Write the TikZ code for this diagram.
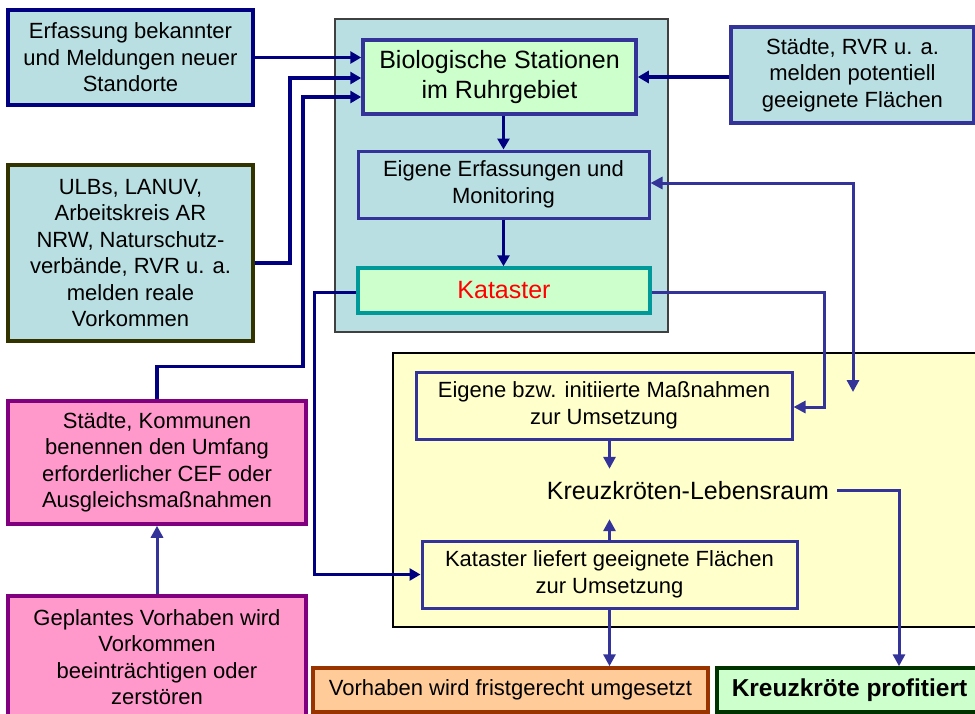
\documentclass[tikz,border=0pt]{standalone}
\usepackage{fontspec}
\setmainfont{Liberation Sans}
\usetikzlibrary{arrows.meta,calc}
\definecolor{lblue}{HTML}{B9DFE2}
\definecolor{lgreen}{HTML}{CCFFCC}
\definecolor{lyellow}{HTML}{FFFFCC}
\definecolor{lpink}{HTML}{FF99CC}
\definecolor{lpeach}{HTML}{FFCC99}
\definecolor{navyc}{HTML}{000080}
\definecolor{bluec}{HTML}{333399}
\definecolor{tealc}{HTML}{009999}
\definecolor{olivec}{HTML}{333300}
\definecolor{dgreen}{HTML}{003300}
\definecolor{brownc}{HTML}{993300}
\definecolor{purplec}{HTML}{800080}
\newcommand\myfs[2]{\fontsize{#1}{#2}\selectfont}
\begin{document}
\begin{tikzpicture}[x=1pt,y=-1pt,
  boxa/.style={draw, line width=3.5pt, inner sep=0pt, align=center, font=\myfs{22}{26.5}},
  boxb/.style={draw=bluec, line width=3pt, inner sep=0pt, align=center, font=\myfs{22}{26.5}},
  navyarr/.style={draw=navyc, line width=3.5pt, -{Triangle[length=11pt,width=12pt]}},
  bluearr/.style={draw=bluec, line width=3pt, -{Triangle[length=12pt,width=12pt]}},
  bluedbl/.style={draw=bluec, line width=3pt, {Triangle[length=12pt,width=12pt]}-{Triangle[length=12pt,width=12pt]}}
]
\useasboundingbox (0,0) rectangle (975,713);
\clip (0,0) rectangle (975,713);
\fill[white] (0,0) rectangle (975,713);

% containers
\node[draw=black!75, fill=lblue, line width=1.2pt, minimum width=333pt, minimum height=313pt, inner sep=0pt] (cont) at (501.5,175.5) {};
\node[draw=black, fill=lyellow, line width=1.2pt, minimum width=597pt, minimum height=274pt, inner sep=0pt] (ycont) at (691.5,490) {};

% left column
\node[boxa, draw=navyc, fill=lblue, minimum width=245pt, minimum height=95pt] (erf) at (130.5,57.5)
  {Erfassung bekannter\\und Meldungen neuer\\Standorte};
\node[boxa, draw=olivec, fill=lblue, minimum width=245pt, minimum height=176pt] (ulb) at (130.5,253)
  {ULBs, LANUV,\\Arbeitskreis AR\\NRW, Naturschutz-\\verbände, RVR u. a.\\melden reale\\Vorkommen};
\node[boxa, draw=purplec, fill=lpink, minimum width=298pt, minimum height=123pt] (sk) at (157,462.5)
  {Städte, Kommunen\\benennen den Umfang\\erforderlicher CEF oder\\Ausgleichsmaßnahmen};
\node[boxa, draw=purplec, fill=lpink, minimum width=298pt, minimum height=122pt] (gp) at (157,657)
  {Geplantes Vorhaben wird\\Vorkommen\\beeinträchtigen oder\\zerstören};

% blue container content
\node[boxa, draw=bluec, fill=lgreen, minimum width=273pt, minimum height=74pt, font=\myfs{25}{30}] (bs) at (499.5,77)
  {Biologische Stationen\\im Ruhrgebiet};
\node[boxb, fill=lblue, minimum width=291pt, minimum height=67pt] (ee) at (503.5,184.5)
  {Eigene Erfassungen und\\Monitoring};
\node[boxa, draw=tealc, fill=lgreen, minimum width=292pt, minimum height=45pt, font=\myfs{25}{30}, text=red] (kat) at (504,290.5)
  {Kataster};

% right top
\node[boxa, draw=bluec, fill=lblue, minimum width=243pt, minimum height=96pt] (rvr) at (852.5,75)
  {Städte, RVR u. a.\\melden potentiell\\geeignete Flächen};

% yellow container content
\node[boxb, fill=lyellow, minimum width=376pt, minimum height=67pt] (eb) at (604,405.5)
  {Eigene bzw. initiierte Maßnahmen\\zur Umsetzung};
\node[inner xsep=0pt, inner ysep=0pt, minimum height=44pt, font=\myfs{25}{30}] (leb) at (688,491)
  {Kreuzkröten-Lebensraum};
\node[boxb, fill=lyellow, minimum width=375pt, minimum height=67pt] (kl) at (609.5,574.5)
  {Kataster liefert geeignete Flächen\\zur Umsetzung};

% bottom
\node[boxa, draw=brownc, fill=lpeach, minimum width=395pt, minimum height=44pt] (vh) at (510.5,690)
  {Vorhaben wird fristgerecht umgesetzt};
\node[boxa, draw=dgreen, fill=lgreen, minimum width=265pt, minimum height=44pt, font=\myfs{24.5}{30}\bfseries] (prof) at (849.5,690)
  {Kreuzkröte profitiert};

% connectors
\coordinate (dd) at (853,392);
\draw[navyarr] (erf.east) -- (erf.east -| bs.west);
\draw[navyarr] ([yshift=-10pt]ulb.east) -- ++(35,0) |- ([yshift=-1pt]bs.west);
\draw[navyarr] (sk.north) -- ++(0,-33) -- ++(146,0) |- ([yshift=-20pt]bs.west);
\draw[navyarr] ([yshift=-2pt]kat.west) -- ++(-42,0) |- (kl.west);
\draw[navyarr] ([yshift=-2pt]rvr.west) -- ([yshift=-2pt]rvr.west -| bs.east);
\draw[navyarr] (ee.north |- bs.south) -- (ee.north);
\draw[navyarr] (ee.south) -- (ee.south |- kat.north);
\draw[bluedbl] ([yshift=1.5pt]ee.east) -| (dd);
\draw[bluearr] ([yshift=-2pt]kat.east) -- ++(173,0) |- ([yshift=-1.5pt]eb.east);
\draw[bluearr] (kl.north |- eb.south) -- (kl.north |- leb.north);
\draw[bluearr, shorten >=6pt] (kl.north) -- (kl.north |- leb.south);
\draw[bluearr] ([xshift=8pt,yshift=1pt]leb.east) -| ([xshift=49.5pt]prof.north);
\draw[bluearr] (kl.south) -- (kl.south |- vh.north);
\draw[bluearr] (gp.north) -- (sk.south);
\end{tikzpicture}
\end{document}
